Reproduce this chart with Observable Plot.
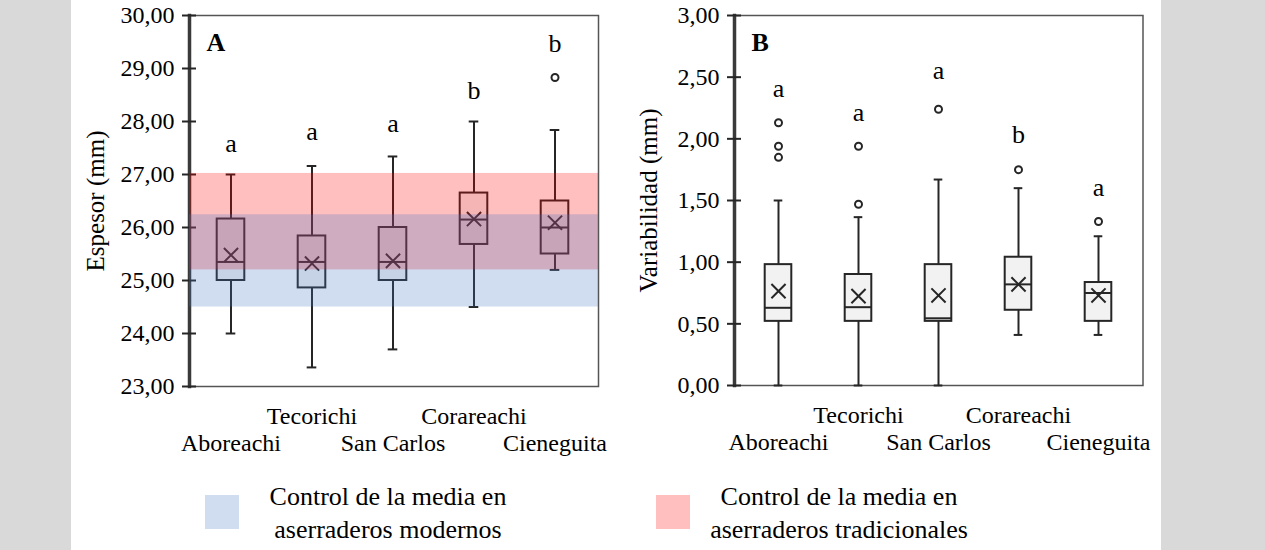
<!DOCTYPE html>
<html><head><meta charset="utf-8">
<script src="https://cdn.jsdelivr.net/npm/d3@7"></script>
<script src="https://cdn.jsdelivr.net/npm/@observablehq/plot@0.6"></script>
<style>
html,body{margin:0;padding:0;background:#fff;}
#wrap{position:relative;width:1265px;height:550px;overflow:hidden;font-family:"Liberation Serif","Times New Roman",serif;color:#000;background:#fff;}
.side{position:absolute;top:0;height:550px;background:#d9d9d9;}
.panel{position:absolute;top:0;}
.sw{position:absolute;top:495px;width:34px;height:34px;}
.lt{position:absolute;top:480px;width:340px;text-align:center;font-size:26px;line-height:33px;white-space:nowrap;}
</style></head><body>
<div id="wrap">
 <div class="side" style="left:0;width:71px"></div>
 <div class="side" style="left:1161px;width:104px"></div>
 <div id="pa" class="panel" style="left:0"></div>
 <div id="pb" class="panel" style="left:630px"></div>
 <div id="legend"></div>
</div>
<script>
// ---------- data ----------
const sites = ["Aboreachi", "Tecorichi", "San Carlos", "Corareachi", "Cieneguita"];
const sitesLow = ["Aboreachi", "San Carlos", "Cieneguita"];
const sitesHigh = ["Tecorichi", "Corareachi"];

// Panel A: Espesor (mm)
const espMin  = [24.00, 23.36, 23.70, 24.50, 25.20];
const espQ1   = [25.00, 24.86, 25.00, 25.68, 25.50];
const espMed  = [25.35, 25.35, 25.35, 26.15, 26.00];
const espQ3   = [26.16, 25.84, 26.00, 26.65, 26.50];
const espMax  = [27.00, 27.16, 27.34, 28.00, 27.84];
const espMean = [25.48, 25.32, 25.37, 26.16, 26.09];
const espOutliers = [[], [], [], [], [28.83]];
const espLetters = ["a", "a", "a", "b", "b"];
const espLetterY = [27.59, 27.81, 27.96, 28.58, 29.47];
const espTicks = [23, 24, 25, 26, 27, 28, 29, 30];

// control bands (panel A)
const bandModern = [24.50, 26.24];      // aserraderos modernos
const bandTraditional = [25.20, 27.02]; // aserraderos tradicionales

// Panel B: Variabilidad (mm)
const varMin  = [0.00, 0.00, 0.00, 0.41, 0.41];
const varQ1   = [0.52, 0.52, 0.52, 0.61, 0.52];
const varMed  = [0.63, 0.635, 0.545, 0.82, 0.75];
const varQ3   = [0.98, 0.90, 0.98, 1.04, 0.835];
const varMax  = [1.50, 1.365, 1.67, 1.60, 1.21];
const varMean = [0.765, 0.725, 0.73, 0.82, 0.73];
const varOutliers = [[2.13, 1.94, 1.85], [1.94, 1.47], [2.24], [1.75], [1.33]];
const varLetters = ["a", "a", "a", "b", "a"];
const varLetterY = [2.41, 2.21, 2.55, 2.03, 1.60];
const varTicks = [0, 0.5, 1, 1.5, 2, 2.5, 3];

const legendLabels = [["Control de la media en", "aserraderos modernos"], ["Control de la media en", "aserraderos tradicionales"]];

// ---------- styles ----------
const FONT = '"Liberation Serif", "Times New Roman", serif';
const INK = "#262626";
const BLUE = "#4472c4", RED = "#ff0000", BAND_OPACITY = 0.25;
const legendColors = ["#d0dcf0", "#ffbfbf"];

function fmt(d) { return d.toFixed(2).replace(".", ","); }

function panel(o) {
  const rows = sites.map((s, i) => ({site: s, lo: o.lo[i], q1: o.q1[i], med: o.med[i], q3: o.q3[i], hi: o.hi[i], mean: o.mean[i], letter: o.letters[i], ly: o.letterY[i]}));
  const outs = o.outliers.flatMap((arr, i) => arr.map(v => ({site: sites[i], v})));
  const boxInset = 26.7, capInset = 35.7;
  const bandMarks = o.bands ? [
    Plot.rect([{lo: o.bands.trad[0], hi: o.bands.trad[1]}], {y1: "lo", y2: "hi", fill: RED, fillOpacity: BAND_OPACITY}),
    Plot.rect([{lo: o.bands.modern[0], hi: o.bands.modern[1]}], {y1: "lo", y2: "hi", fill: BLUE, fillOpacity: BAND_OPACITY})
  ] : [];
  return Plot.plot({
    width: o.width, height: 470,
    marginLeft: o.ml, marginRight: o.mr, marginTop: 15, marginBottom: o.mb,
    style: {fontFamily: FONT, fontSize: "24px", background: "transparent", color: "#000", overflow: "visible"},
    x: {type: "band", domain: sites, padding: 0, insetLeft: o.il, insetRight: o.ir, axis: null, label: null},
    y: {domain: o.domain, axis: null, label: null},
    marks: [
      Plot.frame({stroke: "#555", strokeWidth: 1.5}),
      Plot.frame({anchor: "left", stroke: "#3a3a3a", strokeWidth: 3.5}),
      Plot.axisY({ticks: o.ticks, tickSize: 14, dx: 7, tickFormat: () => "", stroke: INK, strokeWidth: 2, label: null}),
      Plot.axisY({ticks: o.ticks, tickSize: 0, tickPadding: 15, tickFormat: fmt, fontSize: 24, fill: "#000", label: null}),
      Plot.axisX(sitesLow, {tickSize: 0, tickPadding: 47.5, fontSize: 24, fill: "#000", label: null}),
      Plot.axisX(sitesHigh, {tickSize: 0, tickPadding: 20, fontSize: 24, fill: "#000", label: null}),
      Plot.text([o.title], {frameAnchor: "left", textAnchor: "middle", lineAnchor: "middle", rotate: -90, dx: o.titleDx, fontSize: 25, fill: "#000"}),
      Plot.ruleX(rows, {x: "site", y1: "lo", y2: "hi", stroke: INK, strokeWidth: 2}),
      Plot.tickY(rows, {x: "site", y: "lo", stroke: INK, strokeWidth: 2, insetLeft: capInset, insetRight: capInset}),
      Plot.tickY(rows, {x: "site", y: "hi", stroke: INK, strokeWidth: 2, insetLeft: capInset, insetRight: capInset}),
      Plot.barY(rows, {x: "site", y1: "q1", y2: "q3", fill: "#f2f2f2", stroke: INK, strokeWidth: 2, insetLeft: boxInset, insetRight: boxInset}),
      Plot.tickY(rows, {x: "site", y: "med", stroke: INK, strokeWidth: 2, insetLeft: boxInset, insetRight: boxInset}),
      Plot.dot(rows, {x: "site", y: "mean", symbol: "times", r: 6.5, stroke: INK, strokeWidth: 2}),
      Plot.dot(outs, {x: "site", y: "v", r: 3.5, stroke: INK, strokeWidth: 2, fill: "white"}),
      ...bandMarks,
      Plot.text(rows, {x: "site", y: "ly", text: "letter", fontSize: 26, lineAnchor: "middle", fill: "#000"}),
      Plot.text([o.tag], {frameAnchor: "top-left", textAnchor: "start", lineAnchor: "middle", dx: 17, dy: 27, fontWeight: "bold", fontSize: 26, fill: "#000"})
    ]
  });
}

document.getElementById("pa").appendChild(panel({
  width: 630, ml: 189, mr: 32, mb: 84, il: 0, ir: 2,
  domain: [23, 30], ticks: espTicks, title: "Espesor (mm)", titleDx: -94, tag: "A",
  lo: espMin, q1: espQ1, med: espMed, q3: espQ3, hi: espMax, mean: espMean,
  outliers: espOutliers, letters: espLetters, letterY: espLetterY,
  bands: {modern: bandModern, trad: bandTraditional}
}));

document.getElementById("pb").appendChild(panel({
  width: 635, ml: 104, mr: 122.5, mb: 85, il: 1.5, ir: 3,
  domain: [0, 3], ticks: varTicks, title: "Variabilidad (mm)", titleDx: -86, tag: "B",
  lo: varMin, q1: varQ1, med: varMed, q3: varQ3, hi: varMax, mean: varMean,
  outliers: varOutliers, letters: varLetters, letterY: varLetterY,
  bands: null
}));

// legend
const leg = document.getElementById("legend");
const swLeft = [205, 656], textLeft = [218, 669];
legendLabels.forEach((lines, i) => {
  const sw = document.createElement("div");
  sw.className = "sw"; sw.style.left = swLeft[i] + "px"; sw.style.background = legendColors[i];
  leg.appendChild(sw);
  const t = document.createElement("div");
  t.className = "lt"; t.style.left = textLeft[i] + "px";
  t.innerHTML = lines.join("<br>");
  leg.appendChild(t);
});
</script>
</body></html>
